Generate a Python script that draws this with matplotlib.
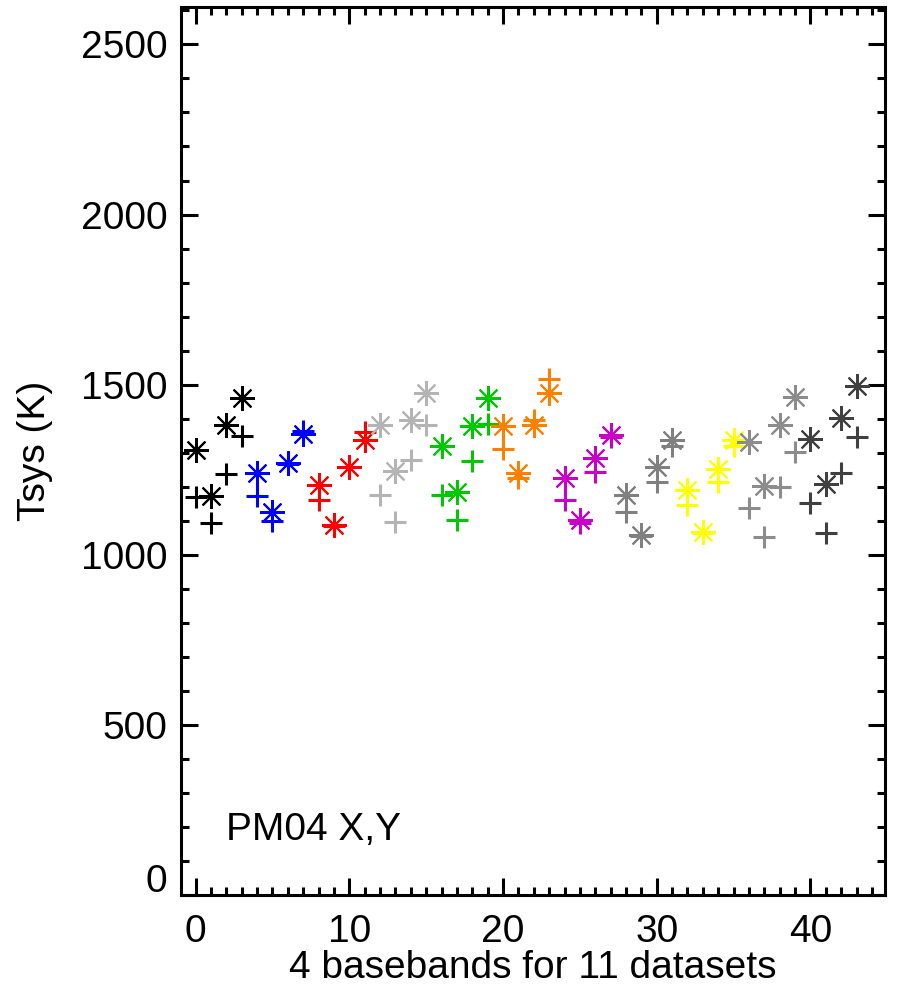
import numpy as np
import matplotlib
matplotlib.use('Agg')
import matplotlib.pyplot as plt
import matplotlib.transforms as mtransforms
from matplotlib.ticker import MultipleLocator, FuncFormatter

plt.rcParams['font.family'] = ['Liberation Sans', 'DejaVu Sans']

# 4 basebands for each of 11 datasets
baseband = np.arange(44)
tsys_x = [1309, 1174, 1382, 1461,
          1240, 1126, 1271, 1356,
          1206, 1088, 1259, 1338,
          1382, 1247, 1397, 1474,
          1321, 1185, 1379, 1461,
          1377, 1240, 1382, 1474,
          1226, 1103, 1285, 1353,
          1176, 1059, 1259, 1338,
          1191, 1068, 1253, 1338,
          1332, 1203, 1382, 1465,
          1341, 1209, 1403, 1497]
tsys_y = [1171, 1094, 1238, 1350,
          1173, 1100, 1268, 1365,
          1162, 1085, 1257, 1362,
          1176, 1097, 1279, 1382,
          1176, 1103, 1277, 1385,
          1311, 1226, 1397, 1517,
          1162, 1094, 1244, 1347,
          1127, 1055, 1215, 1321,
          1147, 1065, 1215, 1321,
          1138, 1053, 1200, 1303,
          1153, 1065, 1241, 1347]
dataset_colors = ['#000000', '#0000ff', '#ff0000', '#b4b4b4', '#00c800',
                  '#ff8000', '#c800c8', '#808080', '#ffff00', '#8c8c8c',
                  '#404040']

fig = plt.figure(figsize=(8.97, 9.97), dpi=100)
ax = fig.add_axes([0.2018, 0.1023, 0.7848, 0.8907])

for i, c in enumerate(dataset_colors):
    xs = baseband[4 * i:4 * i + 4]
    ax.plot(xs, tsys_x[4 * i:4 * i + 4], ls='none', marker=(8, 2, 0),
            ms=18, mew=1.5, color=c)
    ax.plot(xs, tsys_y[4 * i:4 * i + 4], ls='none', marker='+',
            ms=16, mew=2.2, color=c)

ax.set_xlim(-0.95, 44.85)
ax.set_ylim(0, 2610)
ax.xaxis.set_major_locator(MultipleLocator(10))
ax.xaxis.set_minor_locator(MultipleLocator(1))
ax.yaxis.set_major_locator(MultipleLocator(500))
ax.yaxis.set_minor_locator(MultipleLocator(100))
# "0" is drawn separately, slightly raised like in the original
ax.yaxis.set_major_formatter(FuncFormatter(lambda v, p: '' if v == 0 else '%d' % v))
ax.tick_params(which='both', direction='in', top=True, right=True,
               width=2.2, labelsize=28)
ax.tick_params(axis='x', which='major', length=12, pad=14)
ax.tick_params(axis='x', which='minor', length=6)
ax.tick_params(axis='y', which='major', length=12, pad=10)
ax.tick_params(axis='y', which='minor', length=6)
for s in ax.spines.values():
    s.set_linewidth(2.2)

zero_trans = ax.get_yaxis_transform() + mtransforms.ScaledTranslation(
    -10 / 72, 13 / 100, fig.dpi_scale_trans)
ax.text(0, 0, '0', fontsize=28, ha='right', va='center', transform=zero_trans)

ax.set_xlabel('4 basebands for 11 datasets', fontsize=28, labelpad=0)
ax.set_ylabel('Tsys (K)', fontsize=28, labelpad=20)
ax.text(2, 190, 'PM04 X,Y', fontsize=28, va='center')

fig.savefig('out.png', dpi=100)
